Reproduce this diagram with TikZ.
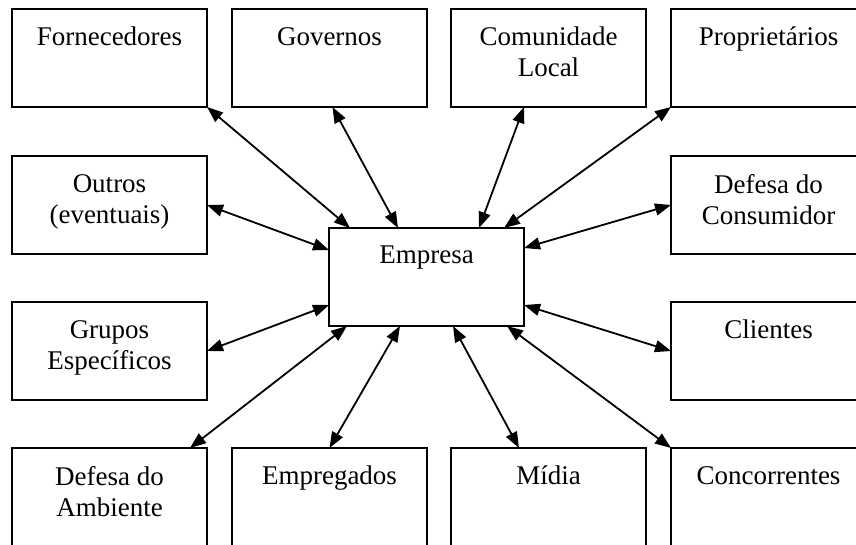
\documentclass[tikz,border=0pt]{standalone}
\usepackage{fontspec}
\setmainfont{Liberation Serif}
\usetikzlibrary{arrows.meta}

\begin{document}
\begin{tikzpicture}[x=1pt, y=-1pt, >={Triangle[length=16pt, width=12pt]},
  box/.style={draw, line width=2.4pt, minimum width=195pt, minimum height=98pt,
    inner sep=0pt, outer sep=0pt},
  txt/.style={anchor=north, yshift=-18pt, inner sep=0pt, align=center,
    font=\fontsize{27}{31}\selectfont},
  link/.style={<->, line width=1.8pt}]
  \path[use as bounding box, clip] (0,0) rectangle (856,545);
  \fill[white] (0,0) rectangle (856,545);

  % centre
  \node[box] (emp) at (426.5,277) {};
  \node[txt] (empt) at (emp.north) {Empresa};

  % top row
  \node[box] (forn) at (109.5,58) {};
  \node[txt] (fornt) at (forn.north) {Fornecedores};
  \node[box] (gov) at (329.5,58) {};
  \node[txt] (govt) at (gov.north) {Governos};
  \node[box] (com) at (548.5,58) {};
  \node[txt] (comt) at (com.north) {Comunidade\\Local};
  \node[box] (prop) at (768.5,58) {};
  \node[txt] (propt) at (prop.north) {Proprietários};

  % sides
  \node[box] (outr) at (109.5,205) {};
  \node[txt] (outrt) at (outr.north) {Outros\\(eventuais)};
  \node[box] (defc) at (768.5,205) {};
  \node[txt] (defct) at (defc.north) {Defesa do\\Consumidor};
  \node[box] (grup) at (109.5,351) {};
  \node[txt] (grupt) at (grup.north) {Grupos\\Específicos};
  \node[box] (cli) at (768.5,351) {};
  \node[txt] (clit) at (cli.north) {Clientes};

  % bottom row
  \node[box] (amb) at (109.5,497) {};
  \node[txt] (ambt) at (amb.north) {Defesa do\\Ambiente};
  \node[box] (empg) at (329.5,497) {};
  \node[txt] (empgt) at (empg.north) {Empregados};
  \node[box] (mid) at (548.5,497) {};
  \node[txt] (midt) at (mid.north) {Mídia};
  \node[box] (conc) at (768.5,497) {};
  \node[txt] (conct) at (conc.north) {Concorrentes};

  % links
  \draw[link] ([xshift=21pt]emp.north west) -- (forn.south east);
  \draw[link] ([xshift=69pt]emp.north west) -- ([xshift=3pt]gov.south);
  \draw[link] ([xshift=150pt]emp.north west) -- ([xshift=73pt]com.south west);
  \draw[link] ([xshift=175pt]emp.north west) -- (prop.south west);
  \draw[link] ([yshift=-22pt]emp.north west) -- (outr.east);
  \draw[link] ([yshift=-20pt]emp.north east) -- (defc.west);
  \draw[link] ([yshift=21pt]emp.south west) -- (grup.east);
  \draw[link] ([yshift=21pt]emp.south east) -- (cli.west);
  \draw[link] ([xshift=18pt]emp.south west) -- ([xshift=-17pt]amb.north east);
  \draw[link] ([xshift=71pt]emp.south west) -- (empg.north);
  \draw[link] ([xshift=124pt]emp.south west) -- ([xshift=68pt]mid.north west);
  \draw[link] ([xshift=178pt]emp.south west) -- (conc.north west);
\end{tikzpicture}
\end{document}
